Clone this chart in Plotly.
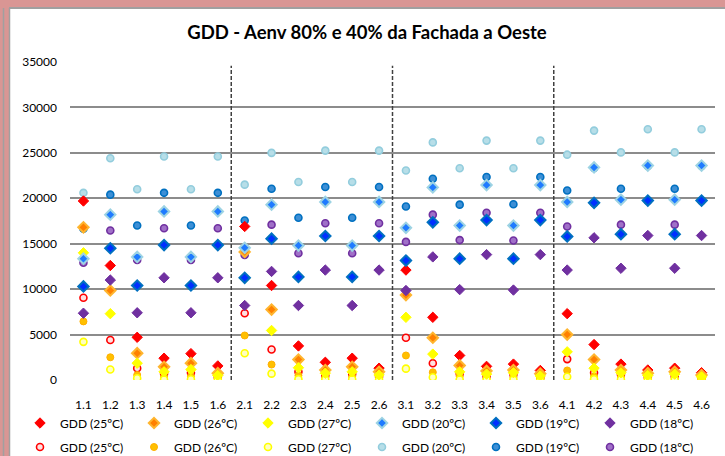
import plotly.graph_objects as go

categories = ["1.1", "1.2", "1.3", "1.4", "1.5", "1.6",
              "2.1", "2.2", "2.3", "2.4", "2.5", "2.6",
              "3.1", "3.2", "3.3", "3.4", "3.5", "3.6",
              "4.1", "4.2", "4.3", "4.4", "4.5", "4.6"]

# Diamond series
d25 = [19700, 12600, 4700, 2400, 2900, 1550, 16900, 10400, 3750, 1950, 2400, 1300,
       12100, 6900, 2700, 1500, 1750, 1050, 7300, 3900, 1750, 1100, 1300, 800]
d26 = [16800, 9850, 2950, 1450, 1850, 750, 14100, 7750, 2250, 1100, 1450, 900,
       9350, 4650, 1600, 1000, 1100, 700, 5000, 2250, 1100, 750, 900, 550]
d27 = [14000, 7300, 1850, 900, 1150, 500, 11200, 5450, 1350, 750, 900, 550,
       6900, 2850, 900, 650, 800, 450, 3100, 1300, 800, 500, 650, 350]
d20 = [13350, 18200, 13550, 18550, 13550, 18550, 14550, 19300, 14800, 19600, 14800, 19600,
       16750, 21200, 17000, 21450, 17000, 21450, 19600, 23400, 19850, 23600, 19850, 23600]
d19 = [10300, 14500, 10400, 14850, 10400, 14850, 11250, 15550, 11350, 15850, 11350, 15850,
       13150, 17350, 13350, 17600, 13350, 17600, 15800, 19500, 16050, 19750, 16050, 19750]
d18 = [7350, 11000, 7400, 11250, 7400, 11250, 8200, 11950, 8200, 12100, 8200, 12100,
       9850, 13550, 9950, 13800, 9900, 13800, 12100, 15650, 12300, 15900, 12300, 15900]

# Circle series
c25 = [9050, 4400, 1300, 700, 800, 300, 7350, 3350, 900, 500, 650, 350,
       4650, 1850, 700, 400, 600, 250, 2300, 800, 600, 300, 400, 200]
c26 = [6450, 2500, 550, 350, 400, 150, 4900, 1700, 500, 250, 350, 200,
       2700, 850, 400, 200, 300, 100, 1050, 400, 300, 150, 200, 100]
c27 = [4200, 1150, 200, 50, 80, 20, 2950, 700, 100, 50, 80, 20,
       1250, 300, 60, 30, 50, 10, 350, 100, 60, 20, 40, 10]
c20 = [20600, 24400, 21000, 24600, 21000, 24600, 21500, 25000, 21800, 25250, 21800, 25250,
       23050, 26150, 23300, 26350, 23300, 26350, 24800, 27450, 25050, 27600, 25050, 27600]
c19 = [16650, 20400, 17000, 20600, 17000, 20600, 17550, 21050, 17850, 21250, 17850, 21250,
       19100, 22150, 19300, 22350, 19350, 22350, 20850, 23350, 21050, 23550, 21050, 23550]
c18 = [12900, 16450, 13200, 16700, 13200, 16700, 13750, 17100, 13950, 17250, 13950, 17250,
       15200, 18200, 15400, 18400, 15350, 18400, 16900, 19450, 17100, 19700, 17100, 19700]

names = ["GDD (25ºC)", "GDD (26ºC)", "GDD (27ºC)", "GDD (20ºC)", "GDD (19ºC)", "GDD (18ºC)"]
separators = [5.5, 11.5, 17.5]

FONT = "Lato, 'Open Sans', sans-serif"
W, H = 725, 456
L, R, T, B = 70, 10, 62, 76
PW, PH = W - L - R, H - T - B


def xp(px):
    return (px - L) / PW


def yp(py):
    return (H - B - py) / PH


fig = go.Figure()

# circles (drawn first, below diamonds)
circle_styles = [
    dict(color="#FFE0E0", line=dict(color="#FF0000", width=1.6)),
    dict(color="#FFC000", line=dict(color="#FFB000", width=1)),
    dict(color="#FFFFC0", line=dict(color="#FFFF00", width=1.6)),
    dict(color="#B7DEE8", line=dict(color="#93CDDD", width=1.6)),
    dict(color="#3D8FD6", line=dict(color="#0070C0", width=1.6)),
    dict(color="#A070C8", line=dict(color="#7030A0", width=1.6)),
]
for nm, vals, st in zip(names, [c25, c26, c27, c20, c19, c18], circle_styles):
    fig.add_trace(go.Scatter(
        x=categories, y=vals, mode="markers", name=nm, legend="legend2",
        marker=dict(symbol="circle", size=7, color=st["color"], line=st["line"]),
    ))

diamond_styles = [
    dict(color="#FF0000", line=dict(color="#FF0000", width=1)),
    dict(color="#FF8000", line=dict(color="#FFB52E", width=2)),
    dict(color="#FFFF00", line=dict(color="#FFFF00", width=1)),
    dict(color="#1F7BFF", line=dict(color="#9DD3E3", width=2)),
    dict(color="#0030FF", line=dict(color="#0070C0", width=2)),
    dict(color="#7030A0", line=dict(color="#7030A0", width=1)),
]
for nm, vals, st in zip(names, [d25, d26, d27, d20, d19, d18], diamond_styles):
    fig.add_trace(go.Scatter(
        x=categories, y=vals, mode="markers", name=nm, legend="legend",
        marker=dict(symbol="diamond", size=8, color=st["color"], line=st["line"]),
    ))

shapes = []
for s in separators:
    shapes.append(dict(type="line", xref="x", yref="y", x0=s, x1=s, y0=0, y1=34600,
                       line=dict(color="#404040", width=1.5, dash="4px,2px")))

# outer frame (pink border and gray edges)
shapes += [
    dict(type="rect", xref="paper", yref="paper", x0=xp(0), x1=xp(W), y0=yp(8), y1=yp(0),
         fillcolor="#D99694", line=dict(width=0), layer="below"),
    dict(type="rect", xref="paper", yref="paper", x0=xp(0), x1=xp(9), y0=yp(H), y1=yp(0),
         fillcolor="#D99694", line=dict(width=0), layer="below"),
    dict(type="line", xref="paper", yref="paper", x0=xp(9), x1=xp(W), y0=yp(8), y1=yp(8),
         line=dict(color="#A0A0A0", width=2)),
    dict(type="line", xref="paper", yref="paper", x0=xp(9.5), x1=xp(9.5), y0=yp(8), y1=yp(H),
         line=dict(color="#A0A0A0", width=1.5)),
    dict(type="line", xref="paper", yref="paper", x0=xp(3.5), x1=xp(3.5), y0=yp(8), y1=yp(H),
         line=dict(color="#A0A0A0", width=1.5)),
]

legend_common = dict(orientation="h", xanchor="left", yanchor="middle",
                     x=xp(20), entrywidth=69, entrywidthmode="pixels",
                     font=dict(family=FONT, size=12, color="#000000"),
                     bgcolor="rgba(0,0,0,0)", itemsizing="trace", itemwidth=30)

fig.update_layout(
    width=W, height=H,
    margin=dict(l=L, r=R, t=T, b=B, autoexpand=False),
    paper_bgcolor="white", plot_bgcolor="white",
    font=dict(family=FONT, size=12, color="#000000"),
    title=dict(text="<b>GDD - Aenv 80% e 40% da Fachada a Oeste</b>",
               x=367 / W, xanchor="center", y=1 - 33 / H, yanchor="middle",
               font=dict(family=FONT, size=18.5, color="#000000")),
    xaxis=dict(type="category", categoryorder="array", categoryarray=categories,
               range=[-0.5, len(categories) - 0.5], showgrid=False, showline=False,
               zeroline=False, ticks="", ticklabelstandoff=16,
               tickfont=dict(family=FONT, size=12, color="#000000")),
    yaxis=dict(range=[0, 35000], dtick=5000, showgrid=True, gridcolor="#8C8C8C",
               gridwidth=1.5, zeroline=False, showline=False, ticks="",
               ticklabelstandoff=12, tickformat="d",
               tickfont=dict(family=FONT, size=12, color="#000000")),
    legend=dict(y=yp(423), **legend_common),
    legend2=dict(y=yp(447), **legend_common),
    shapes=shapes,
    showlegend=True,
)

fig.write_html("out.html", config={"displayModeBar": False},
               post_script="document.body.style.margin='0';")
